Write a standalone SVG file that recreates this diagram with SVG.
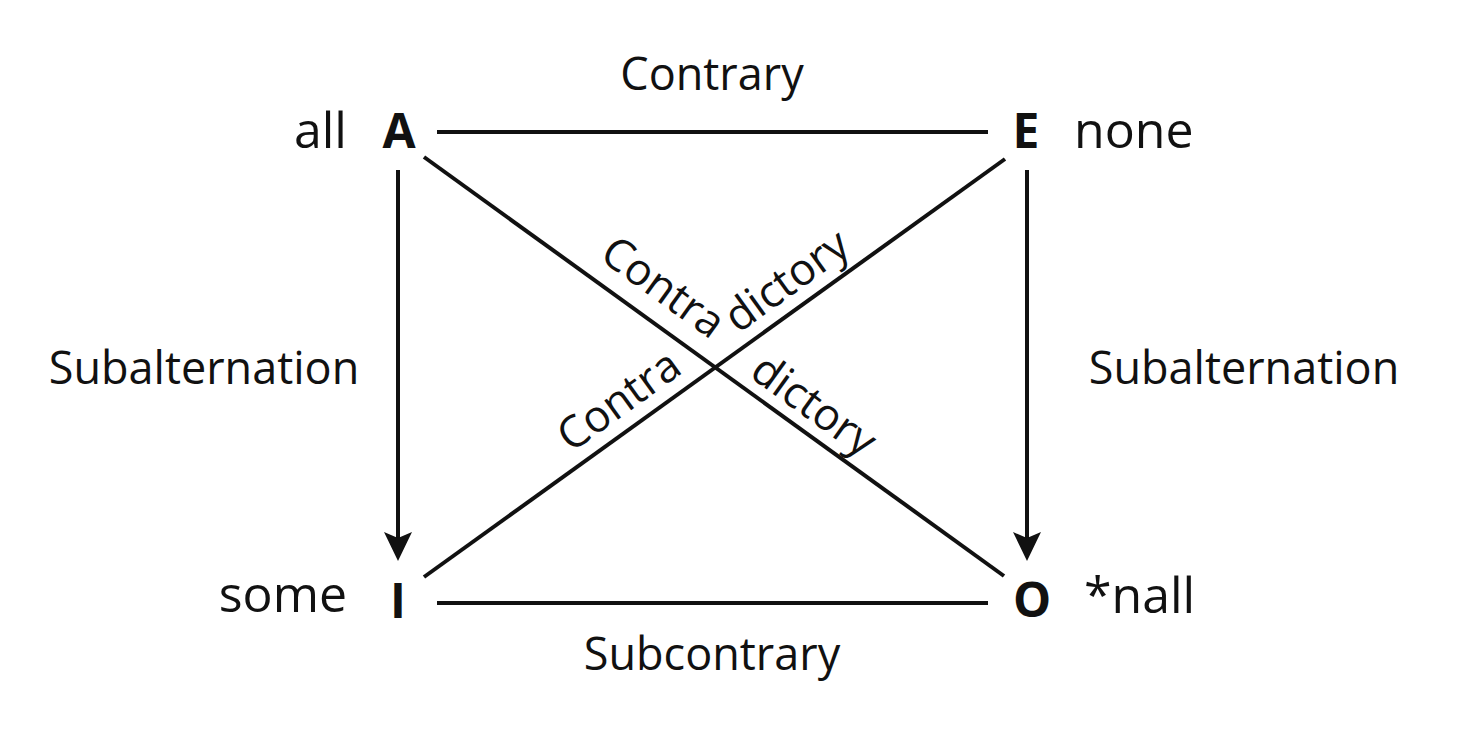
<svg xmlns="http://www.w3.org/2000/svg" width="1476" height="730" viewBox="0 0 1476 730">
<defs>
<style>
.lbl{font-family:"Open Sans","Noto Sans",sans-serif;font-size:45px;fill:#111}
.word{font-family:"Open Sans","Noto Sans",sans-serif;font-size:50px;fill:#111}
.diag{font-family:"Open Sans","Noto Sans",sans-serif;font-size:44px;fill:#111}
.ltr{font-family:"Open Sans","Noto Sans",sans-serif;font-size:48px;font-weight:bold;fill:#111;text-anchor:middle}
.ln{stroke:#111;stroke-width:4;fill:none}
.ah{fill:#111}
</style>
</defs>
<rect width="1476" height="730" fill="#fff"/>
<g id="connectors">
<line class="ln" x1="437" y1="132" x2="988" y2="132"/>
<line class="ln" x1="437" y1="603" x2="988" y2="603"/>
<line class="ln" x1="424" y1="157" x2="1004" y2="576"/>
<line class="ln" x1="424" y1="577" x2="1005" y2="159"/>
<line class="ln" x1="398" y1="170" x2="398" y2="545"/>
<line class="ln" x1="1027" y1="170" x2="1027" y2="545"/>
<path class="ah" d="M384,532 L398,561 L412,532 L398,538 Z"/>
<path class="ah" d="M1013,532 L1027,561 L1041,532 L1027,538 Z"/>
</g>
<g id="node-A"><text class="ltr" x="399" y="148">A</text><text class="word" x="347" y="148" text-anchor="end">all</text></g>
<g id="node-E"><text class="ltr" x="1026" y="148">E</text><text class="word" x="1074" y="148">none</text></g>
<g id="node-I"><text class="ltr" x="398" y="618">I</text><text class="word" x="347" y="612" text-anchor="end">some</text></g>
<g id="node-O"><text class="ltr" x="1032" y="617">O</text><text class="word" x="1084" y="613">*nall</text></g>
<g id="labels">
<text class="lbl" x="712" y="90" text-anchor="middle">Contrary</text>
<text class="lbl" x="712" y="670" text-anchor="middle">Subcontrary</text>
<text class="lbl" x="204" y="384" text-anchor="middle">Subalternation</text>
<text class="lbl" x="1244" y="384" text-anchor="middle">Subalternation</text>
<text class="diag" text-anchor="end" transform="translate(711,340) rotate(35.8)">Contra</text>
<text class="diag" transform="translate(738,334) rotate(-35.7)">dictory</text>
<text class="diag" text-anchor="end" transform="translate(684,372) rotate(-35.7)">Contra</text>
<text class="diag" transform="translate(748,376) rotate(35.8)">dictory</text>
</g>
</svg>
